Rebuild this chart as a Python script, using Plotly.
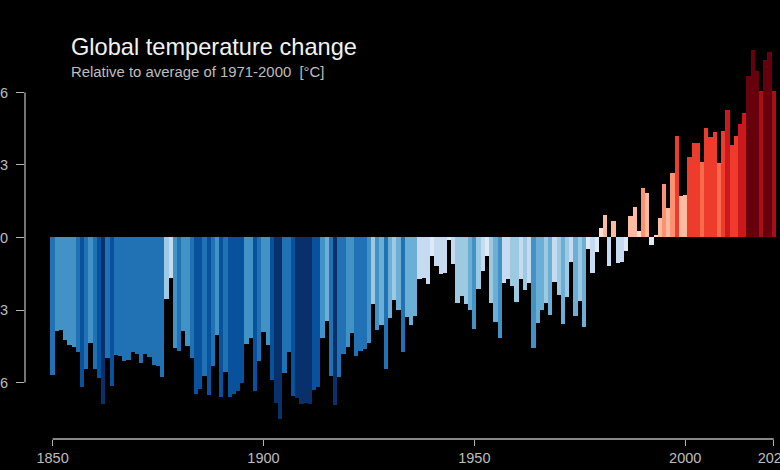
import plotly.graph_objects as go

years = list(range(1850, 2022))
anomalies = [
 -.570,-.388,-.383,-.425,-.445,-.452,-.474,-.618,-.542,-.436,
 -.542,-.582,-.687,-.497,-.615,-.486,-.491,-.509,-.505,-.472,
 -.480,-.521,-.481,-.494,-.526,-.530,-.577,-.255,-.166,-.458,
 -.468,-.386,-.450,-.500,-.646,-.625,-.574,-.651,-.532,-.404,
 -.658,-.556,-.659,-.648,-.637,-.601,-.439,-.415,-.637,-.510,
 -.389,-.445,-.590,-.684,-.750,-.560,-.473,-.655,-.666,-.687,
 -.683,-.690,-.629,-.618,-.415,-.346,-.572,-.694,-.577,-.480,
 -.451,-.394,-.491,-.469,-.463,-.436,-.277,-.382,-.361,-.545,
 -.331,-.258,-.298,-.474,-.328,-.360,-.323,-.171,-.166,-.194,
 -.077,-.116,-.152,-.148,-.011,-.110,-.272,-.244,-.277,-.298,
 -.379,-.215,-.138,-.076,-.269,-.350,-.415,-.190,-.172,-.201,
 -.268,-.173,-.216,-.189,-.457,-.355,-.302,-.270,-.321,-.185,
 -.237,-.359,-.247,-.103,-.325,-.263,-.369,-.049,-.147,-.061,
 .041,.095,-.119,.069,-.105,-.101,-.057,.088,.127,.025,
 .206,.183,-.029,.011,.080,.222,.123,.268,.422,.170,
 .177,.334,.389,.389,.312,.451,.417,.437,.310,.441,
 .526,.382,.421,.469,.517,.669,.777,.690,.607,.735,
 .767,.607,
]
bin_edges = [-1,-.66,-.58,-.46,-.37,-.29,-.2,-.09,0,.06,.2,.29,.32,.46,.58,.65,1]
bin_colors = ["#08306b","#08519c","#2171b5","#4292c6","#6baed6","#9ecae1","#c6dbef","#deebf7",
              "#fee0d2","#fcbba1","#fc9272","#fb6a4a","#ef3b2c","#cb181d","#a50f15","#67000d"]
x_ticks = [1850, 1900, 1950, 2000, 2021]
x_labels = ["1850", "1900", "1950", "2000", "2021"]
y_ticks = [-.6, -.3, 0, .3, .6]
y_labels = ["-0.6", "-0.3", "0", "0.3", "0.6"]
title = "Global temperature change"
subtitle = "Relative to average of 1971-2000  [°C]"

scale = []
for i, c in enumerate(bin_colors):
    scale.append([(bin_edges[i] + 1) / 2, c])
    scale.append([(bin_edges[i + 1] + 1) / 2, c])

W, H = 780, 470
L, B = 25, 31
AXIS = "#b4b4b4"
TXT = "#bdbdbd"
FONT = "Liberation Sans"

fig = go.Figure(go.Bar(
    x=years, y=anomalies, width=1.0,
    marker=dict(color=anomalies, colorscale=scale, cmin=-1, cmax=1, showscale=False, line_width=0),
))
fig.update_layout(
    width=W, height=H, margin=dict(l=L, r=0, t=0, b=B),
    paper_bgcolor="black", plot_bgcolor="black", showlegend=False, bargap=0,
    font=dict(family=FONT, color=TXT),
    xaxis=dict(range=[1843.46, 2022.47], tickmode="array", tickvals=x_ticks, ticktext=x_labels,
               ticks="outside", ticklen=6, tickwidth=1.3, tickcolor=AXIS, showgrid=False, zeroline=False,
               showline=False, tickfont=dict(size=14.5, color=TXT), tickangle=0, automargin=False,
               ticklabeloverflow="allow"),
    yaxis=dict(range=[-.8337, .9826], tickmode="array", tickvals=y_ticks, ticktext=y_labels,
               ticks="outside", ticklen=8, tickwidth=1.3, tickcolor=AXIS, showgrid=False, zeroline=False,
               showline=False, tickfont=dict(size=14.5, color=TXT), ticklabelstandoff=5, automargin=False,
               ticklabeloverflow="allow"),
    shapes=[
        dict(type="line", xref="x", yref="paper", x0=x_ticks[0], x1=x_ticks[-1], y0=0, y1=0,
             line=dict(color=AXIS, width=1.3)),
        dict(type="line", xref="paper", yref="y", x0=0, x1=0, y0=y_ticks[0], y1=y_ticks[-1],
             line=dict(color=AXIS, width=1.3)),
    ],
    annotations=[
        dict(text=title, xref="paper", yref="paper", x=(69 - L) / (W - L), y=(H - 47 - B) / (H - B),
             xanchor="left", yanchor="middle", showarrow=False, font=dict(size=23.6, color="#f2f2f2")),
        dict(text=subtitle, xref="paper", yref="paper", x=(69 - L) / (W - L), y=(H - 72 - B) / (H - B),
             xanchor="left", yanchor="middle", showarrow=False, font=dict(size=14.9, color=TXT)),
    ],
)
fig.write_html("out.html", config={"displayModeBar": False},
               post_script="document.body.style.margin='0';document.body.style.background='black';document.body.style.overflow='hidden';")
